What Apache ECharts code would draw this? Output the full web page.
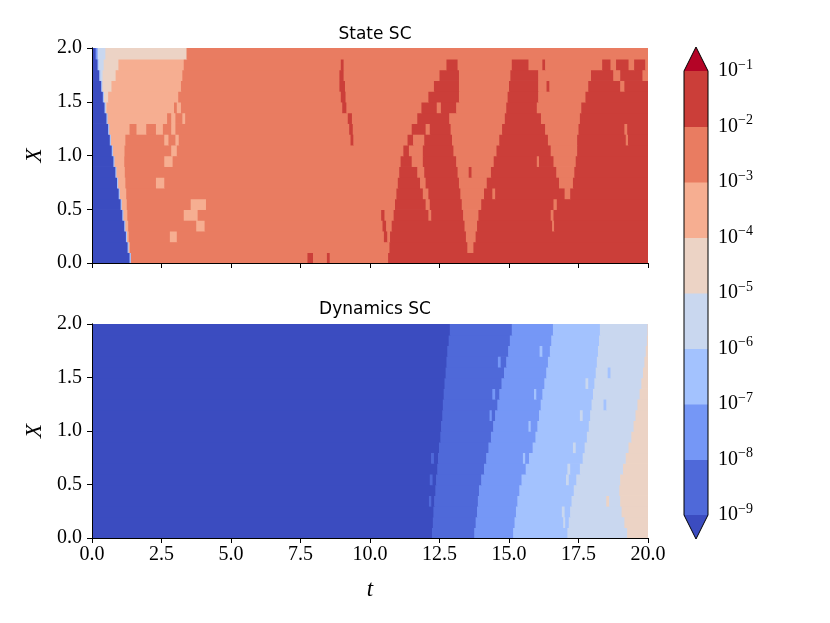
<!DOCTYPE html>
<html><head><meta charset="utf-8">
<script src="https://cdn.jsdelivr.net/npm/echarts@6/dist/echarts.min.js"></script>
<style>html,body{margin:0;padding:0;background:#fff}#c{width:830px;height:623px}</style>
</head><body><div id="c"></div>
<script>
// ---- data ----
// contour levels: 0 = <1e-9, 1 = 1e-9..1e-8, ..., 8 = 1e-2..1e-1, 9 = >1e-1
const levelColors = ['#3b4cc0','#4f69d9','#7597f6','#a3c2fe','#c9d7ef','#ecd3c5','#f6ae91','#e97c61','#cb3e39','#b40426'];
const rowEdges = [0,0.1,0.2,0.3,0.4,0.5,0.6,0.7,0.8,0.9,1.0,1.1,1.2,1.3,1.4,1.5,1.6,1.7,1.8,1.9,2.0];
const xTicks = [0,2.5,5,7.5,10,12.5,15,17.5,20];
const yTicks = [0,0.5,1.0,1.5,2.0];
const cbExponents = [-9,-8,-7,-6,-5,-4,-3,-2,-1];
// each row (X band, bottom to top): list of [t_end, level] segments starting from t=0
const stateRows = [
 [[1.35,0],[1.40,3],[7.75,7],[7.95,8],[8.45,7],[8.55,8],[10.65,7],[20,8]],
 [[1.28,0],[1.32,3],[1.36,6],[10.70,7],[13.50,8],[13.72,7],[20,8]],
 [[1.22,0],[1.26,3],[1.32,6],[2.80,7],[3.05,6],[10.50,7],[10.62,8],[10.72,7],[13.45,8],[13.80,7],[20,8]],
 [[1.16,0],[1.20,3],[1.30,6],[3.75,7],[4.05,6],[10.45,7],[10.58,8],[10.78,7],[13.40,8],[13.85,7],[16.55,8],[16.62,7],[20,8]],
 [[1.09,0],[1.13,3],[1.27,6],[3.30,7],[3.80,6],[10.40,7],[10.52,8],[10.85,7],[12.10,8],[12.20,7],[13.35,8],[13.90,7],[16.50,8],[16.60,7],[20,8]],
 [[1.03,0],[1.07,3],[1.25,6],[3.55,7],[4.10,6],[10.90,7],[12.00,8],[12.15,7],[13.30,8],[14.00,7],[16.60,8],[16.72,7],[20,8]],
 [[0.96,0],[1.00,3],[1.23,6],[10.95,7],[11.90,8],[12.10,7],[13.25,8],[14.10,7],[14.40,8],[14.50,7],[17.00,8],[17.20,7],[20,8]],
 [[0.90,0],[0.94,3],[1.20,6],[2.30,7],[2.60,6],[11.00,7],[11.80,8],[12.00,7],[13.20,8],[14.20,7],[16.80,8],[17.30,7],[20,8]],
 [[0.84,0],[0.88,3],[1.18,6],[11.05,7],[11.70,8],[11.95,7],[13.15,8],[13.55,7],[13.65,8],[14.35,7],[16.70,8],[17.35,7],[20,8]],
 [[0.77,0],[0.81,3],[1.16,6],[2.60,7],[2.90,6],[11.10,7],[11.50,8],[11.90,7],[13.10,8],[14.45,7],[16.00,8],[16.08,7],[16.60,8],[17.40,7],[20,8]],
 [[0.71,0],[0.75,3],[1.17,6],[2.85,7],[3.05,6],[11.20,7],[11.40,8],[11.90,7],[13.00,8],[14.55,7],[16.50,8],[17.45,7],[20,8]],
 [[0.64,0],[0.68,3],[1.20,6],[2.60,7],[2.75,6],[3.00,7],[3.12,6],[9.30,7],[9.40,8],[11.35,7],[11.55,8],[11.95,7],[12.95,8],[14.65,7],[16.40,8],[17.45,7],[19.20,8],[19.28,7],[20,8]],
 [[0.58,0],[0.62,3],[1.35,6],[1.60,7],[1.95,6],[2.30,7],[2.55,6],[2.85,7],[3.00,6],[9.25,7],[9.38,8],[11.50,7],[12.00,8],[12.15,7],[12.90,8],[14.75,7],[16.30,8],[17.50,7],[19.15,8],[19.25,7],[20,8]],
 [[0.52,0],[0.56,3],[2.70,6],[2.85,7],[3.00,6],[3.25,7],[3.35,6],[9.20,7],[9.35,8],[11.70,7],[12.85,8],[14.85,7],[16.15,8],[17.55,7],[20,8]],
 [[0.45,0],[0.49,3],[0.52,5],[2.95,6],[3.05,7],[3.20,6],[9.00,7],[9.15,8],[11.85,7],[12.40,8],[12.55,7],[13.10,8],[14.90,7],[16.00,8],[17.60,7],[20,8]],
 [[0.39,0],[0.43,3],[0.58,5],[3.10,6],[8.95,7],[9.12,8],[12.10,7],[13.20,8],[14.95,7],[16.05,8],[17.75,7],[20,8]],
 [[0.33,0],[0.37,3],[0.70,5],[3.20,6],[8.90,7],[9.10,8],[12.30,7],[13.20,8],[15.00,7],[16.05,8],[16.35,7],[16.45,8],[17.85,7],[19.00,8],[19.15,7],[20,8]],
 [[0.26,0],[0.30,3],[0.38,4],[0.85,5],[3.25,6],[8.90,7],[9.05,8],[12.50,7],[13.20,8],[15.05,7],[16.05,8],[17.95,7],[18.75,8],[19.00,7],[19.80,8],[20,7]],
 [[0.20,0],[0.24,3],[0.42,4],[0.95,5],[3.30,6],[8.95,7],[9.05,8],[12.75,7],[13.15,8],[15.10,7],[15.70,8],[16.20,7],[16.30,8],[18.35,7],[18.65,8],[18.85,7],[19.30,8],[19.50,7],[19.90,8],[20,7]],
 [[0.13,0],[0.20,2],[0.48,4],[3.40,5],[20,7]]
];
const dynamicsRows = [
 [[12.23,0],[13.75,1],[15.15,2],[17.10,3],[19.25,4],[20,5]],
 [[12.26,0],[13.80,1],[15.20,2],[16.95,3],[17.02,4],[17.15,3],[19.15,4],[20,5]],
 [[12.28,0],[13.85,1],[15.25,2],[16.90,3],[17.00,4],[17.20,3],[19.05,4],[20,5]],
 [[12.12,0],[12.20,1],[12.31,0],[13.88,1],[15.30,2],[17.25,3],[18.50,4],[18.60,5],[19.00,4],[20,5]],
 [[12.35,0],[13.92,1],[15.37,2],[17.33,3],[18.97,4],[20,5]],
 [[12.15,0],[12.25,1],[12.38,0],[14.00,1],[15.45,2],[17.05,3],[17.15,4],[17.42,3],[19.00,4],[20,5]],
 [[12.42,0],[14.10,1],[15.60,2],[17.10,3],[17.20,4],[17.55,3],[19.10,4],[20,5]],
 [[12.20,0],[12.30,1],[12.45,0],[14.18,1],[15.50,2],[15.58,3],[15.72,2],[17.65,3],[19.20,4],[20,5]],
 [[12.48,0],[14.26,1],[15.85,2],[17.30,3],[17.40,4],[17.72,3],[19.30,4],[20,5]],
 [[12.53,0],[14.35,1],[15.95,2],[17.80,3],[19.40,4],[20,5]],
 [[12.56,0],[14.43,1],[15.70,2],[15.78,3],[16.02,2],[17.87,3],[19.48,4],[20,5]],
 [[12.60,0],[14.30,1],[14.38,2],[14.50,1],[16.08,2],[17.55,3],[17.65,4],[17.92,3],[19.55,4],[20,5]],
 [[12.62,0],[14.58,1],[16.14,2],[17.97,3],[18.40,4],[18.50,3],[19.62,4],[20,5]],
 [[12.65,0],[14.40,1],[14.50,2],[14.65,1],[15.90,2],[15.98,3],[16.20,2],[18.02,3],[19.70,4],[20,5]],
 [[12.68,0],[14.73,1],[16.27,2],[17.75,3],[17.85,4],[18.07,3],[19.76,4],[20,5]],
 [[12.72,0],[14.82,1],[16.34,2],[18.12,3],[18.55,4],[18.65,3],[19.82,4],[20,5]],
 [[12.75,0],[14.60,1],[14.70,2],[14.90,1],[16.40,2],[18.16,3],[19.87,4],[20,5]],
 [[12.78,0],[14.97,1],[16.10,2],[16.20,3],[16.47,2],[18.20,3],[19.92,4],[20,5]],
 [[12.83,0],[15.03,1],[16.52,2],[18.24,3],[19.96,4],[20,5]],
 [[12.87,0],[15.10,1],[16.58,2],[18.27,3],[19.98,4],[20,5]]
];
const titles = ['State SC','Dynamics SC'];

// ---- build ----
function buildCells(rows){
  const out=[];
  rows.forEach((segs,k)=>{let t0=0;segs.forEach(s=>{out.push([t0,s[0],rowEdges[k],rowEdges[k+1],s[1]]);t0=s[0];});});
  return out;
}
function renderCell(params, api){
  const p0=api.coord([api.value(0),api.value(3)]);
  const p1=api.coord([api.value(1),api.value(2)]);
  return {type:'rect',shape:{x:p0[0],y:p0[1],width:p1[0]-p0[0]+0.7,height:p1[1]-p0[1]+0.7},
    style:{fill:levelColors[api.value(4)]}};
}
const cbBands=[];
for(let i=0;i<cbExponents.length-1;i++) cbBands.push([cbExponents[i],cbExponents[i+1],i+1]);
const cbLo=cbExponents[0], cbHi=cbExponents[cbExponents.length-1];

const serif='Liberation Serif';
const lab={fontFamily:serif,fontSize:20,color:'#000'};
function mainX(grid,showLabels,name){
  return {gridIndex:grid,type:'value',min:0,max:20,interval:2.5,z:10,
    axisLine:{show:true,lineStyle:{color:'#000',width:1}},
    axisTick:{show:true,length:5,lineStyle:{color:'#000'}},
    axisLabel:{show:showLabels,margin:7,...lab,formatter:v=>v.toFixed(1)},
    splitLine:{show:false},
    name:name||'',nameLocation:'middle',nameGap:40,
    nameTextStyle:{fontFamily:serif,fontStyle:'italic',fontSize:23,color:'#000'}};
}
function edgeX(grid){return {gridIndex:grid,type:'value',min:0,max:20,position:'top',z:10,
  axisLine:{show:true,lineStyle:{color:'#000'}},axisTick:{show:false},axisLabel:{show:false},splitLine:{show:false}};}
function mainY(grid){
  return {gridIndex:grid,type:'value',min:0,max:2,interval:0.5,z:10,
    axisLine:{show:true,lineStyle:{color:'#000'}},
    axisTick:{show:true,length:5,lineStyle:{color:'#000'}},
    axisLabel:{margin:10,...lab,formatter:v=>v.toFixed(1)},
    splitLine:{show:false},
    name:'X',nameLocation:'middle',nameRotate:90,nameGap:46,
    nameTextStyle:{fontFamily:serif,fontStyle:'italic',fontSize:23,color:'#000'}};
}
function edgeY(grid){return {gridIndex:grid,type:'value',min:0,max:2,position:'right',z:10,
  axisLine:{show:true,lineStyle:{color:'#000'}},axisTick:{show:false},axisLabel:{show:false},splitLine:{show:false}};}

const option={
  animation:false,
  backgroundColor:'#fff',
  title:[
    {text:titles[0],left:370,top:21,textAlign:'center',textStyle:{fontFamily:'DejaVu Sans',fontSize:17,fontWeight:'normal',color:'#000'}},
    {text:titles[1],left:370,top:296,textAlign:'center',textStyle:{fontFamily:'DejaVu Sans',fontSize:17,fontWeight:'normal',color:'#000'}}
  ],
  grid:[
    {left:92,width:556,top:48,height:215},
    {left:92,width:556,top:324,height:214},
    {left:684,width:24,top:71,height:444}
  ],
  xAxis:[mainX(0,false),edgeX(0),mainX(1,true,'t'),edgeX(1),
    {gridIndex:2,type:'value',min:0,max:1,show:false}],
  yAxis:[mainY(0),edgeY(0),mainY(1),edgeY(1),
    {gridIndex:2,type:'value',min:cbLo,max:cbHi,interval:1,position:'right',
      axisLine:{show:false},axisTick:{show:true,length:5,lineStyle:{color:'#000'}},
      splitLine:{show:false},
      axisLabel:{margin:10,formatter:v=>'{a|10}{b|\u2212'+(-v)+'}',
        rich:{a:{fontFamily:serif,fontSize:20,color:'#000',lineHeight:26},
              b:{fontFamily:serif,fontSize:14,color:'#000',lineHeight:14,verticalAlign:'top'}}}}],
  series:[
    {type:'custom',xAxisIndex:0,yAxisIndex:0,clip:true,renderItem:renderCell,data:buildCells(stateRows),encode:{x:[0,1],y:[2,3]}},
    {type:'custom',xAxisIndex:2,yAxisIndex:2,clip:true,renderItem:renderCell,data:buildCells(dynamicsRows),encode:{x:[0,1],y:[2,3]}},
    {type:'custom',xAxisIndex:4,yAxisIndex:4,clip:false,data:cbBands,encode:{y:[0,1]},
      renderItem:(p,api)=>{const a=api.coord([0,api.value(1)]),b=api.coord([1,api.value(0)]);
        return {type:'rect',shape:{x:a[0],y:a[1]-0.5,width:b[0]-a[0],height:b[1]-a[1]+1},style:{fill:levelColors[api.value(2)]}};}},
    {type:'custom',xAxisIndex:4,yAxisIndex:4,clip:false,data:[[cbLo,0,1],[cbHi,9,-1]],
      renderItem:(p,api)=>{const y=api.value(0),dir=api.value(2);const l=api.coord([0,y]),r=api.coord([1,y]),m=api.coord([0.5,y]);
        return {type:'polygon',shape:{points:[[l[0],l[1]],[r[0],r[1]],[m[0],m[1]+dir*24]]},style:{fill:levelColors[api.value(1)]}};}},
    {type:'custom',xAxisIndex:4,yAxisIndex:4,clip:false,data:[[cbLo,cbHi]],z:5,
      renderItem:(p,api)=>{const lo=api.value(0),hi=api.value(1);
        const lt=api.coord([0,hi]),rt=api.coord([1,hi]),mt=api.coord([0.5,hi]),lb=api.coord([0,lo]),rb=api.coord([1,lo]),mb=api.coord([0.5,lo]);
        return {type:'polygon',shape:{points:[lt,[mt[0],mt[1]-24],rt,rb,[mb[0],mb[1]+24],lb]},style:{fill:'none',stroke:'#000',lineWidth:1}};}}
  ]
};
const chart=echarts.init(document.getElementById('c'),null,{renderer:'canvas'});
chart.setOption(option);
</script></body></html>
